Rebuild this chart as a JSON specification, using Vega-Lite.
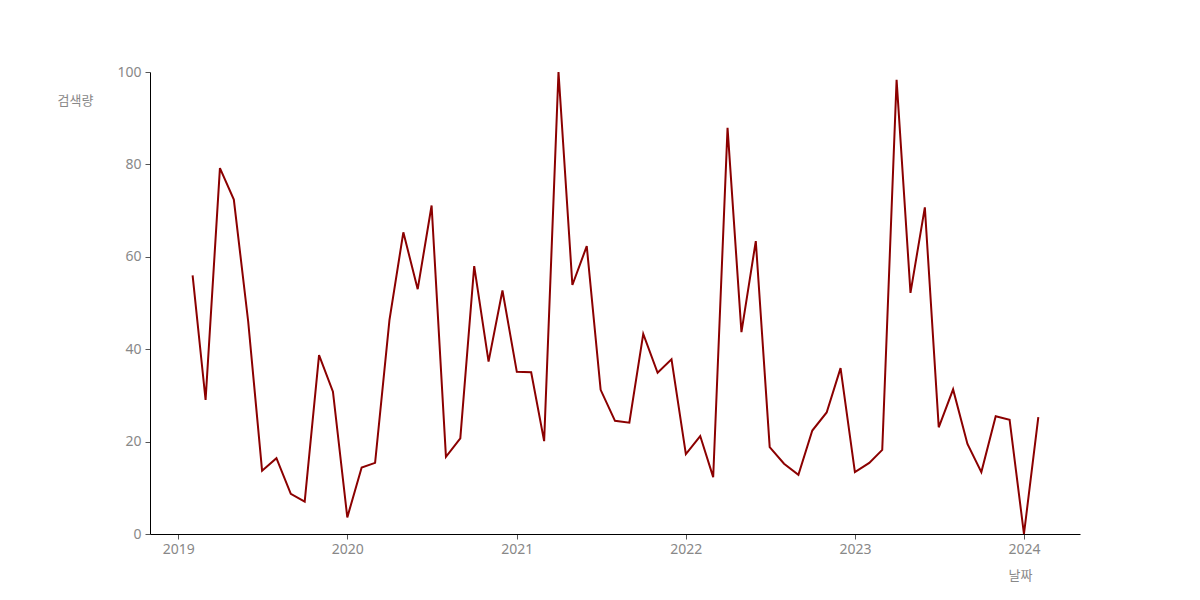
{
  "$schema": "https://vega.github.io/schema/vega-lite/v6.json",
  "width": 930,
  "height": 462,
  "autosize": {"type": "none"},
  "padding": {"left": 150, "top": 72, "right": 120, "bottom": 66},
  "background": "white",
  "config": {"view": {"stroke": null}, "font": "Noto Sans CJK KR"},
  "data": {
    "values": [
      {"date": "2019-02-01", "value": 56.0},
      {"date": "2019-03-01", "value": 29.0},
      {"date": "2019-04-01", "value": 79.2},
      {"date": "2019-05-01", "value": 72.4},
      {"date": "2019-06-01", "value": 46.0},
      {"date": "2019-07-01", "value": 13.7},
      {"date": "2019-08-01", "value": 16.4},
      {"date": "2019-09-01", "value": 8.7},
      {"date": "2019-10-01", "value": 7.0},
      {"date": "2019-11-01", "value": 38.7},
      {"date": "2019-12-01", "value": 30.8},
      {"date": "2020-01-01", "value": 3.6},
      {"date": "2020-02-01", "value": 14.4},
      {"date": "2020-03-01", "value": 15.4},
      {"date": "2020-04-01", "value": 46.3},
      {"date": "2020-05-01", "value": 65.3},
      {"date": "2020-06-01", "value": 53.0},
      {"date": "2020-07-01", "value": 71.1},
      {"date": "2020-08-01", "value": 16.7},
      {"date": "2020-09-01", "value": 20.7},
      {"date": "2020-10-01", "value": 58.0},
      {"date": "2020-11-01", "value": 37.3},
      {"date": "2020-12-01", "value": 52.7},
      {"date": "2021-01-01", "value": 35.1},
      {"date": "2021-02-01", "value": 35.0},
      {"date": "2021-03-01", "value": 20.1},
      {"date": "2021-04-01", "value": 100},
      {"date": "2021-05-01", "value": 53.9},
      {"date": "2021-06-01", "value": 62.3},
      {"date": "2021-07-01", "value": 31.2},
      {"date": "2021-08-01", "value": 24.5},
      {"date": "2021-09-01", "value": 24.1},
      {"date": "2021-10-01", "value": 43.3},
      {"date": "2021-11-01", "value": 34.9},
      {"date": "2021-12-01", "value": 37.8},
      {"date": "2022-01-01", "value": 17.3},
      {"date": "2022-02-01", "value": 21.2},
      {"date": "2022-03-01", "value": 12.3},
      {"date": "2022-04-01", "value": 87.9},
      {"date": "2022-05-01", "value": 43.7},
      {"date": "2022-06-01", "value": 63.4},
      {"date": "2022-07-01", "value": 18.8},
      {"date": "2022-08-01", "value": 15.2},
      {"date": "2022-09-01", "value": 12.8},
      {"date": "2022-10-01", "value": 22.4},
      {"date": "2022-11-01", "value": 26.3},
      {"date": "2022-12-01", "value": 35.9},
      {"date": "2023-01-01", "value": 13.4},
      {"date": "2023-02-01", "value": 15.4},
      {"date": "2023-03-01", "value": 18.2},
      {"date": "2023-04-01", "value": 98.3},
      {"date": "2023-05-01", "value": 52.2},
      {"date": "2023-06-01", "value": 70.7},
      {"date": "2023-07-01", "value": 23.1},
      {"date": "2023-08-01", "value": 31.3},
      {"date": "2023-09-01", "value": 19.5},
      {"date": "2023-10-01", "value": 13.4},
      {"date": "2023-11-01", "value": 25.5},
      {"date": "2023-12-01", "value": 24.7},
      {"date": "2024-01-01", "value": 0},
      {"date": "2024-02-01", "value": 25.3}
    ]
  },
  "mark": {"type": "line", "color": "#8B0000", "strokeWidth": 2, "clip": false},
  "encoding": {
    "x": {
      "field": "date",
      "type": "temporal",
      "scale": {
        "domain": [
          {"year": 2018, "month": 11, "date": 1},
          {"year": 2024, "month": 5, "date": 1}
        ],
        "nice": false
      },
      "axis": {
        "title": "날짜",
        "titleFont": "Noto Sans CJK KR",
        "titleFontSize": 13,
        "titleFontWeight": "normal",
        "titleColor": "#888888",
        "titleAnchor": null,
        "titleAlign": "center",
        "titleBaseline": "middle",
        "titleX": 870,
        "titleY": 41,
        "format": "%Y",
        "tickCount": {"interval": "year", "step": 1},
        "labelFont": "Noto Sans",
        "labelFontSize": 14,
        "labelColor": "#888888",
        "labelPadding": 3,
        "grid": false,
        "domainColor": "#000000",
        "domainWidth": 1,
        "tickColor": "#555555",
        "tickSize": 5
      }
    },
    "y": {
      "field": "value",
      "type": "quantitative",
      "scale": {"domain": [0, 100], "nice": false},
      "axis": {
        "title": "검색량",
        "titleFont": "Noto Sans CJK KR",
        "titleFontSize": 13,
        "titleFontWeight": "normal",
        "titleColor": "#888888",
        "titleAngle": 0,
        "titleAnchor": null,
        "titleAlign": "left",
        "titleBaseline": "middle",
        "titleX": -93,
        "titleY": 28,
        "values": [0, 20, 40, 60, 80, 100],
        "labelFont": "Noto Sans",
        "labelFontSize": 14,
        "labelColor": "#888888",
        "labelPadding": 4,
        "grid": false,
        "domainColor": "#000000",
        "domainWidth": 1,
        "tickColor": "#555555",
        "tickSize": 5
      }
    }
  }
}
